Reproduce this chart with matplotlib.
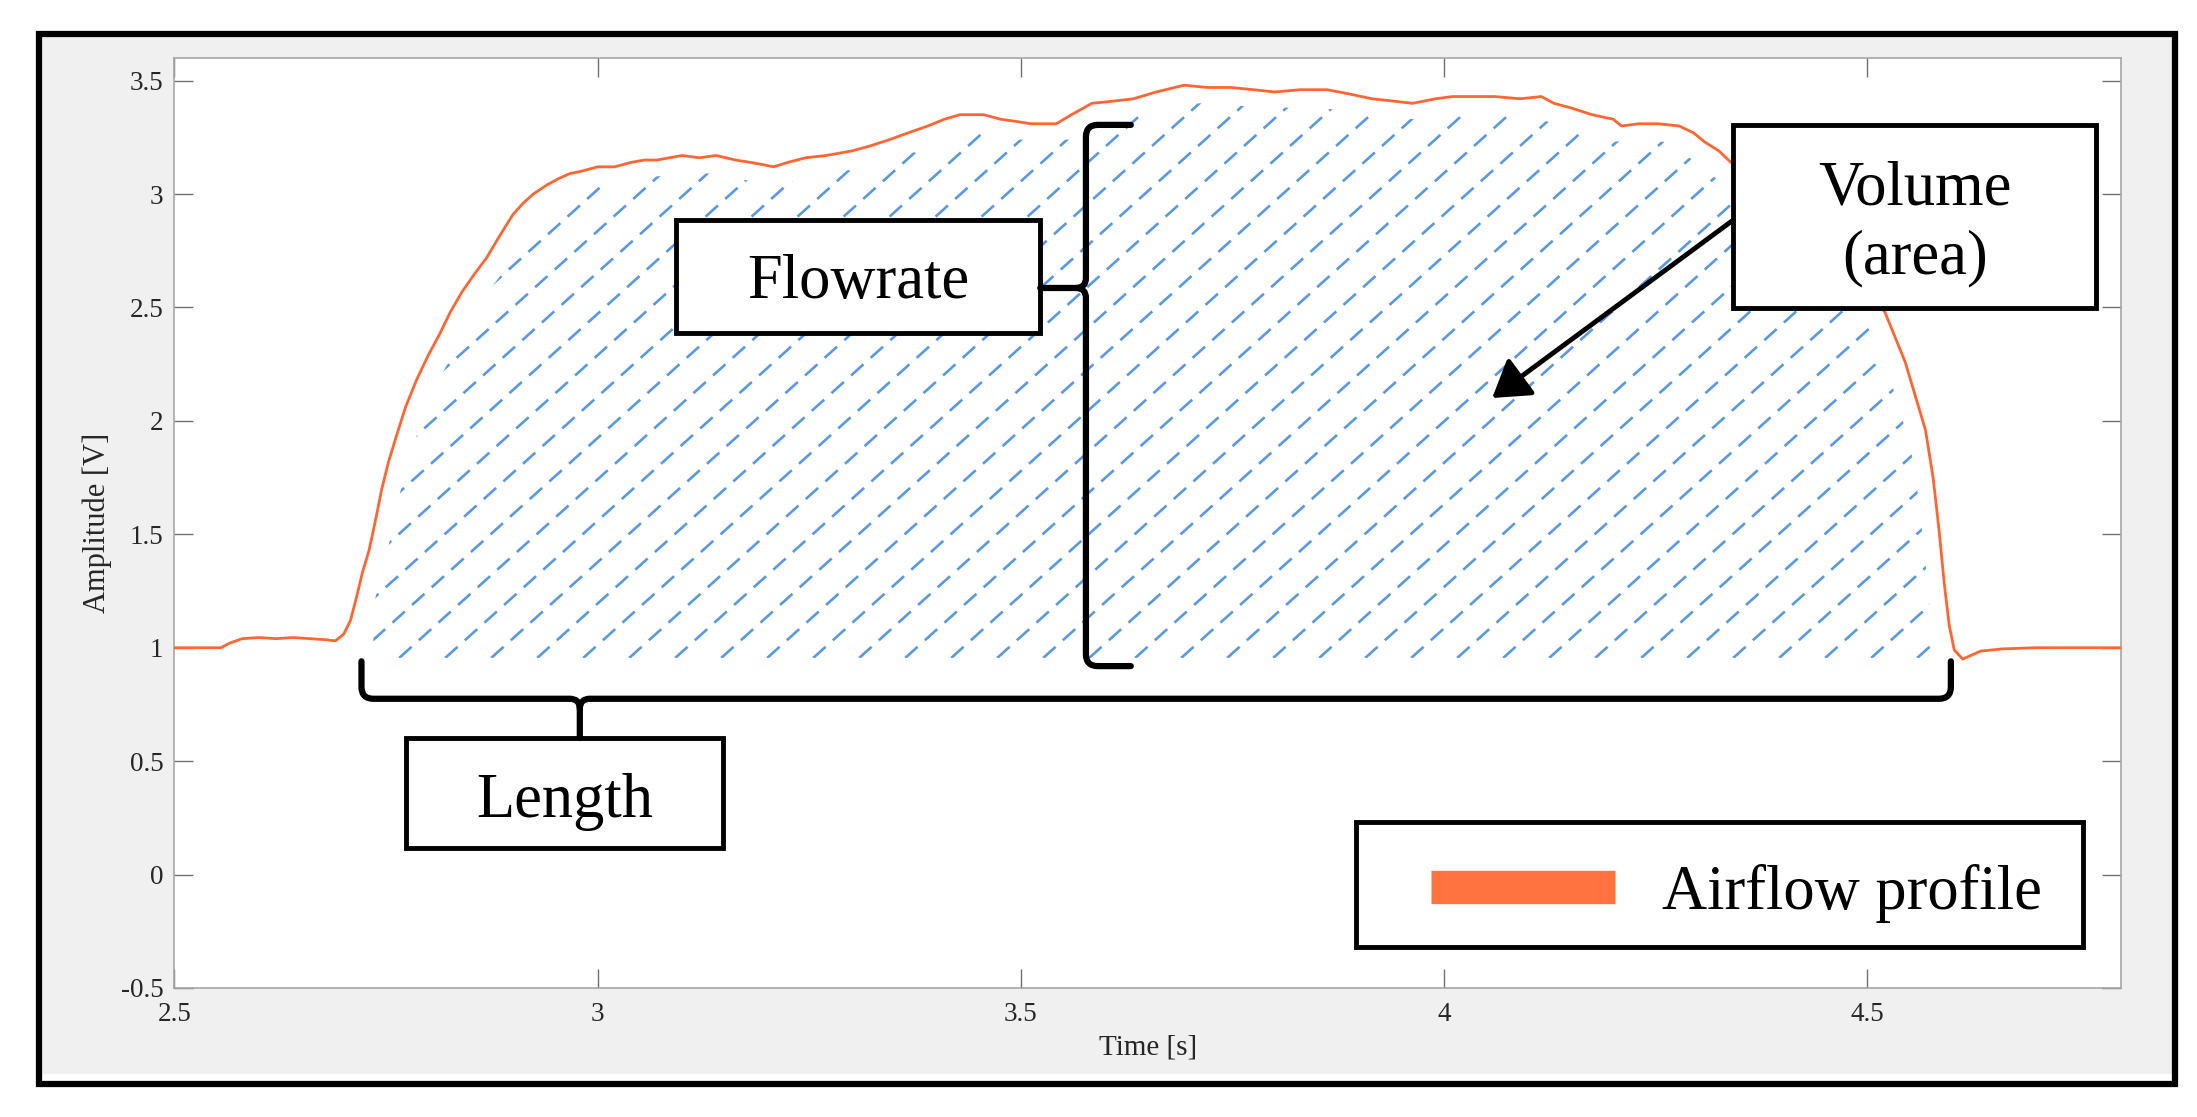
import numpy as np
import matplotlib
matplotlib.use('Agg')
import matplotlib.pyplot as plt
from matplotlib.patches import Rectangle, PathPatch
from matplotlib.path import Path
from matplotlib.collections import LineCollection
from matplotlib.lines import Line2D

plt.rcParams['font.family'] = ['Liberation Serif', 'DejaVu Serif']
plt.rcParams['lines.scale_dashes'] = False

# airflow profile (time in s, amplitude in V)
time_s = [2.50, 2.53, 2.555, 2.565, 2.58, 2.60, 2.62, 2.64, 2.66, 2.68, 2.69,
          2.70, 2.708, 2.715, 2.722, 2.73, 2.738, 2.745, 2.753, 2.762, 2.773,
          2.786, 2.80, 2.813, 2.826, 2.84, 2.855, 2.869, 2.885, 2.90, 2.912,
          2.924, 2.94, 2.955, 2.967, 2.98, 3.00, 3.02, 3.04, 3.055, 3.07,
          3.085, 3.10, 3.12, 3.14, 3.163, 3.18, 3.195, 3.208, 3.225, 3.246,
          3.27, 3.30, 3.32, 3.345, 3.367, 3.39, 3.41, 3.428, 3.456, 3.476,
          3.495, 3.512, 3.53, 3.542, 3.56, 3.584, 3.61, 3.633, 3.66, 3.693,
          3.72, 3.748, 3.775, 3.80, 3.83, 3.862, 3.89, 3.915, 3.94, 3.963,
          3.99, 4.01, 4.036, 4.06, 4.09, 4.115, 4.13, 4.15, 4.175, 4.20,
          4.21, 4.23, 4.253, 4.278, 4.295, 4.308, 4.325, 4.339, 4.37, 4.40,
          4.43, 4.46, 4.49, 4.521, 4.545, 4.569, 4.578, 4.585, 4.591, 4.597,
          4.603, 4.613, 4.625, 4.634, 4.66, 4.70, 4.80]
amp_v = [1.00, 1.00, 1.00, 1.02, 1.04, 1.045, 1.04, 1.045, 1.04, 1.035, 1.03,
         1.06, 1.12, 1.22, 1.33, 1.43, 1.57, 1.70, 1.82, 1.93, 2.06,
         2.18, 2.29, 2.38, 2.48, 2.57, 2.65, 2.72, 2.82, 2.91, 2.96,
         3.00, 3.04, 3.07, 3.09, 3.10, 3.12, 3.12, 3.14, 3.15, 3.15,
         3.16, 3.17, 3.16, 3.17, 3.15, 3.14, 3.13, 3.12, 3.14, 3.16,
         3.17, 3.19, 3.21, 3.24, 3.27, 3.30, 3.33, 3.35, 3.35, 3.33,
         3.32, 3.31, 3.31, 3.31, 3.35, 3.40, 3.41, 3.42, 3.45, 3.48,
         3.47, 3.47, 3.46, 3.45, 3.46, 3.46, 3.44, 3.42, 3.41, 3.40,
         3.42, 3.43, 3.43, 3.43, 3.42, 3.43, 3.40, 3.38, 3.35, 3.33,
         3.30, 3.31, 3.31, 3.30, 3.27, 3.23, 3.19, 3.14, 3.05, 2.95,
         2.85, 2.75, 2.63, 2.48, 2.26, 1.96, 1.75, 1.52, 1.29, 1.10,
         0.99, 0.95, 0.97, 0.985, 0.995, 1.00, 1.00]

x_ticks = [2.5, 3, 3.5, 4, 4.5]
x_tick_labels = ['2.5', '3', '3.5', '4', '4.5']
y_ticks = [-0.5, 0, 0.5, 1, 1.5, 2, 2.5, 3, 3.5]
y_tick_labels = ['-0.5', '0', '0.5', '1', '1.5', '2', '2.5', '3', '3.5']

line_color = '#ff6633'
hatch_color = '#5a98e0'
text_color = '#262626'

fig = plt.figure(figsize=(21.97, 11.17), dpi=100)
# grey panel and black frame around the plot
fig.patches.append(Rectangle((0.0178, 0.0385), 0.9722, 0.931, transform=fig.transFigure,
                             facecolor='#f0f0f0', edgecolor='none', zorder=-5))
fig.patches.append(Rectangle((0.0178, 0.0295), 0.9722, 0.940, transform=fig.transFigure,
                             fill=False, edgecolor='black', lw=4.5, zorder=1))

ax = fig.add_axes([0.0794, 0.1155, 0.886, 0.8326])
ax.set_facecolor('white')
ax.set_xlim(2.5, 4.8)
ax.set_ylim(-0.5, 3.6)
ax.set_xticks(x_ticks, x_tick_labels)
ax.set_yticks(y_ticks, y_tick_labels)
ax.tick_params(direction='in', length=13.5, width=1.0, color='#707070',
               labelsize=19.5, labelcolor=text_color, top=True, right=True)
ax.tick_params(axis='x', pad=10)
ax.tick_params(axis='y', pad=8)
for s in ax.spines.values():
    s.set_color('#a6a6a6')
    s.set_linewidth(1.2)

ax.set_xlabel('Time [s]', fontsize=21, color=text_color)
ax.set_ylabel('Amplitude [V]', fontsize=22, color=text_color)
ax.xaxis.set_label_coords(0.5, -0.05)
ax.yaxis.set_label_coords(-0.032, 0.5)

ax.plot(time_s, amp_v, color=line_color, lw=2.0, zorder=3)

# pixels per data unit, used for the hatch angle and the brace corners
sx, sy = np.diff(ax.transData.transform([(0, 0), (1, 1)]), axis=0)[0]

# dashed diagonal hatching under the curve, clipped a little inside it
tt = np.linspace(2.735, 4.578, 500)
w = 0.018
upper = np.minimum.reduce([np.interp(tt + d, time_s, amp_v) for d in (-w, -w / 2, 0, w / 2, w)]) - 0.07
clip = ax.fill_between(tt, 0.955, upper, facecolor='none', edgecolor='none')
k = 0.9 * sx / sy
dt = 46 / sx
segs = []
for t0 in np.arange(2.735 - 3.0 / k, 4.62, dt):
    segs.append([(t0, 0.955), (t0 + (3.6 - 0.955) / k, 3.6)])
lc = LineCollection(segs, colors=hatch_color, linewidths=1.9,
                    linestyles=[(0, (12, 7))], zorder=1)
ax.add_collection(lc)
lc.set_clip_path(clip.get_paths()[0], ax.transData)

# annotation boxes
def box(x0, x1, y0, y1):
    ax.add_patch(Rectangle((x0, y0), x1 - x0, y1 - y0, facecolor='white',
                           edgecolor='black', lw=3.5, zorder=4))

box(3.093, 3.523, 2.387, 2.886)
ax.text(3.308, 2.61, 'Flowrate', fontsize=45, ha='center', va='center', zorder=6)
box(4.342, 4.771, 2.498, 3.305)
ax.text(4.5565, 2.87, 'Volume\n(area)', fontsize=45, ha='center', va='center',
        linespacing=1.25, zorder=6)
box(2.774, 3.148, 0.117, 0.602)
ax.text(2.961, 0.318, 'Length', fontsize=45, ha='center', va='center', zorder=6)

M, L, C = Path.MOVETO, Path.LINETO, Path.CURVE3

def v_brace(x, y_top, y_bot, y_mid, x_tip, hook, r=12, c=10):
    rx, ry, cx, cy = r / sx, r / sy, c / sx, c / sy
    verts = [(x + hook, y_top), (x + rx, y_top), (x, y_top), (x, y_top - ry),
             (x, y_mid + cy), (x, y_mid), (x - cx, y_mid), (x_tip, y_mid),
             (x - cx, y_mid), (x, y_mid), (x, y_mid - cy),
             (x, y_bot + ry), (x, y_bot), (x + rx, y_bot), (x + hook, y_bot)]
    codes = [M, L, C, C, L, C, C, L, M, C, C, L, C, C, L]
    ax.add_patch(PathPatch(Path(verts, codes), fill=False, lw=4.5, edgecolor='black',
                           capstyle='round', joinstyle='round', zorder=5))

def h_brace(y, x_left, x_right, x_mid, y_tip, y_end, r=12, c=10):
    rx, ry, cx, cy = r / sx, r / sy, c / sx, c / sy
    verts = [(x_left, y_end), (x_left, y + ry), (x_left, y), (x_left + rx, y),
             (x_mid - cx, y), (x_mid, y), (x_mid, y - cy), (x_mid, y_tip),
             (x_mid, y - cy), (x_mid, y), (x_mid + cx, y),
             (x_right - rx, y), (x_right, y), (x_right, y + ry), (x_right, y_end)]
    codes = [M, L, C, C, L, C, C, L, M, C, C, L, C, C, L]
    ax.add_patch(PathPatch(Path(verts, codes), fill=False, lw=4.5, edgecolor='black',
                           capstyle='round', joinstyle='round', zorder=5))

v_brace(3.577, 3.305, 0.919, 2.586, 3.523, 0.053)
h_brace(0.775, 2.721, 4.599, 2.979, 0.602, 0.94)

ax.annotate('', xy=(4.057, 2.101), xytext=(4.342, 2.886), zorder=6,
            arrowprops=dict(arrowstyle='-|>,head_length=1.1,head_width=0.7',
                            lw=3.5, color='black', mutation_scale=20,
                            shrinkA=0, shrinkB=0))

# legend
ax.add_patch(Rectangle((0.607, 0.044), 0.3735, 0.1345, transform=ax.transAxes,
                       facecolor='white', edgecolor='black', lw=3.5, zorder=5))
handle = Line2D([], [], color='#ff7340', lw=24, solid_capstyle='butt')
leg = ax.legend([handle], ['Airflow profile'], loc='center', bbox_to_anchor=(0.8025, 0.102),
                frameon=False, fontsize=45, handlelength=2.95, handletextpad=0.75, borderpad=0)
leg.set_zorder(6)

fig.savefig('out.png', dpi=100, facecolor='white')
